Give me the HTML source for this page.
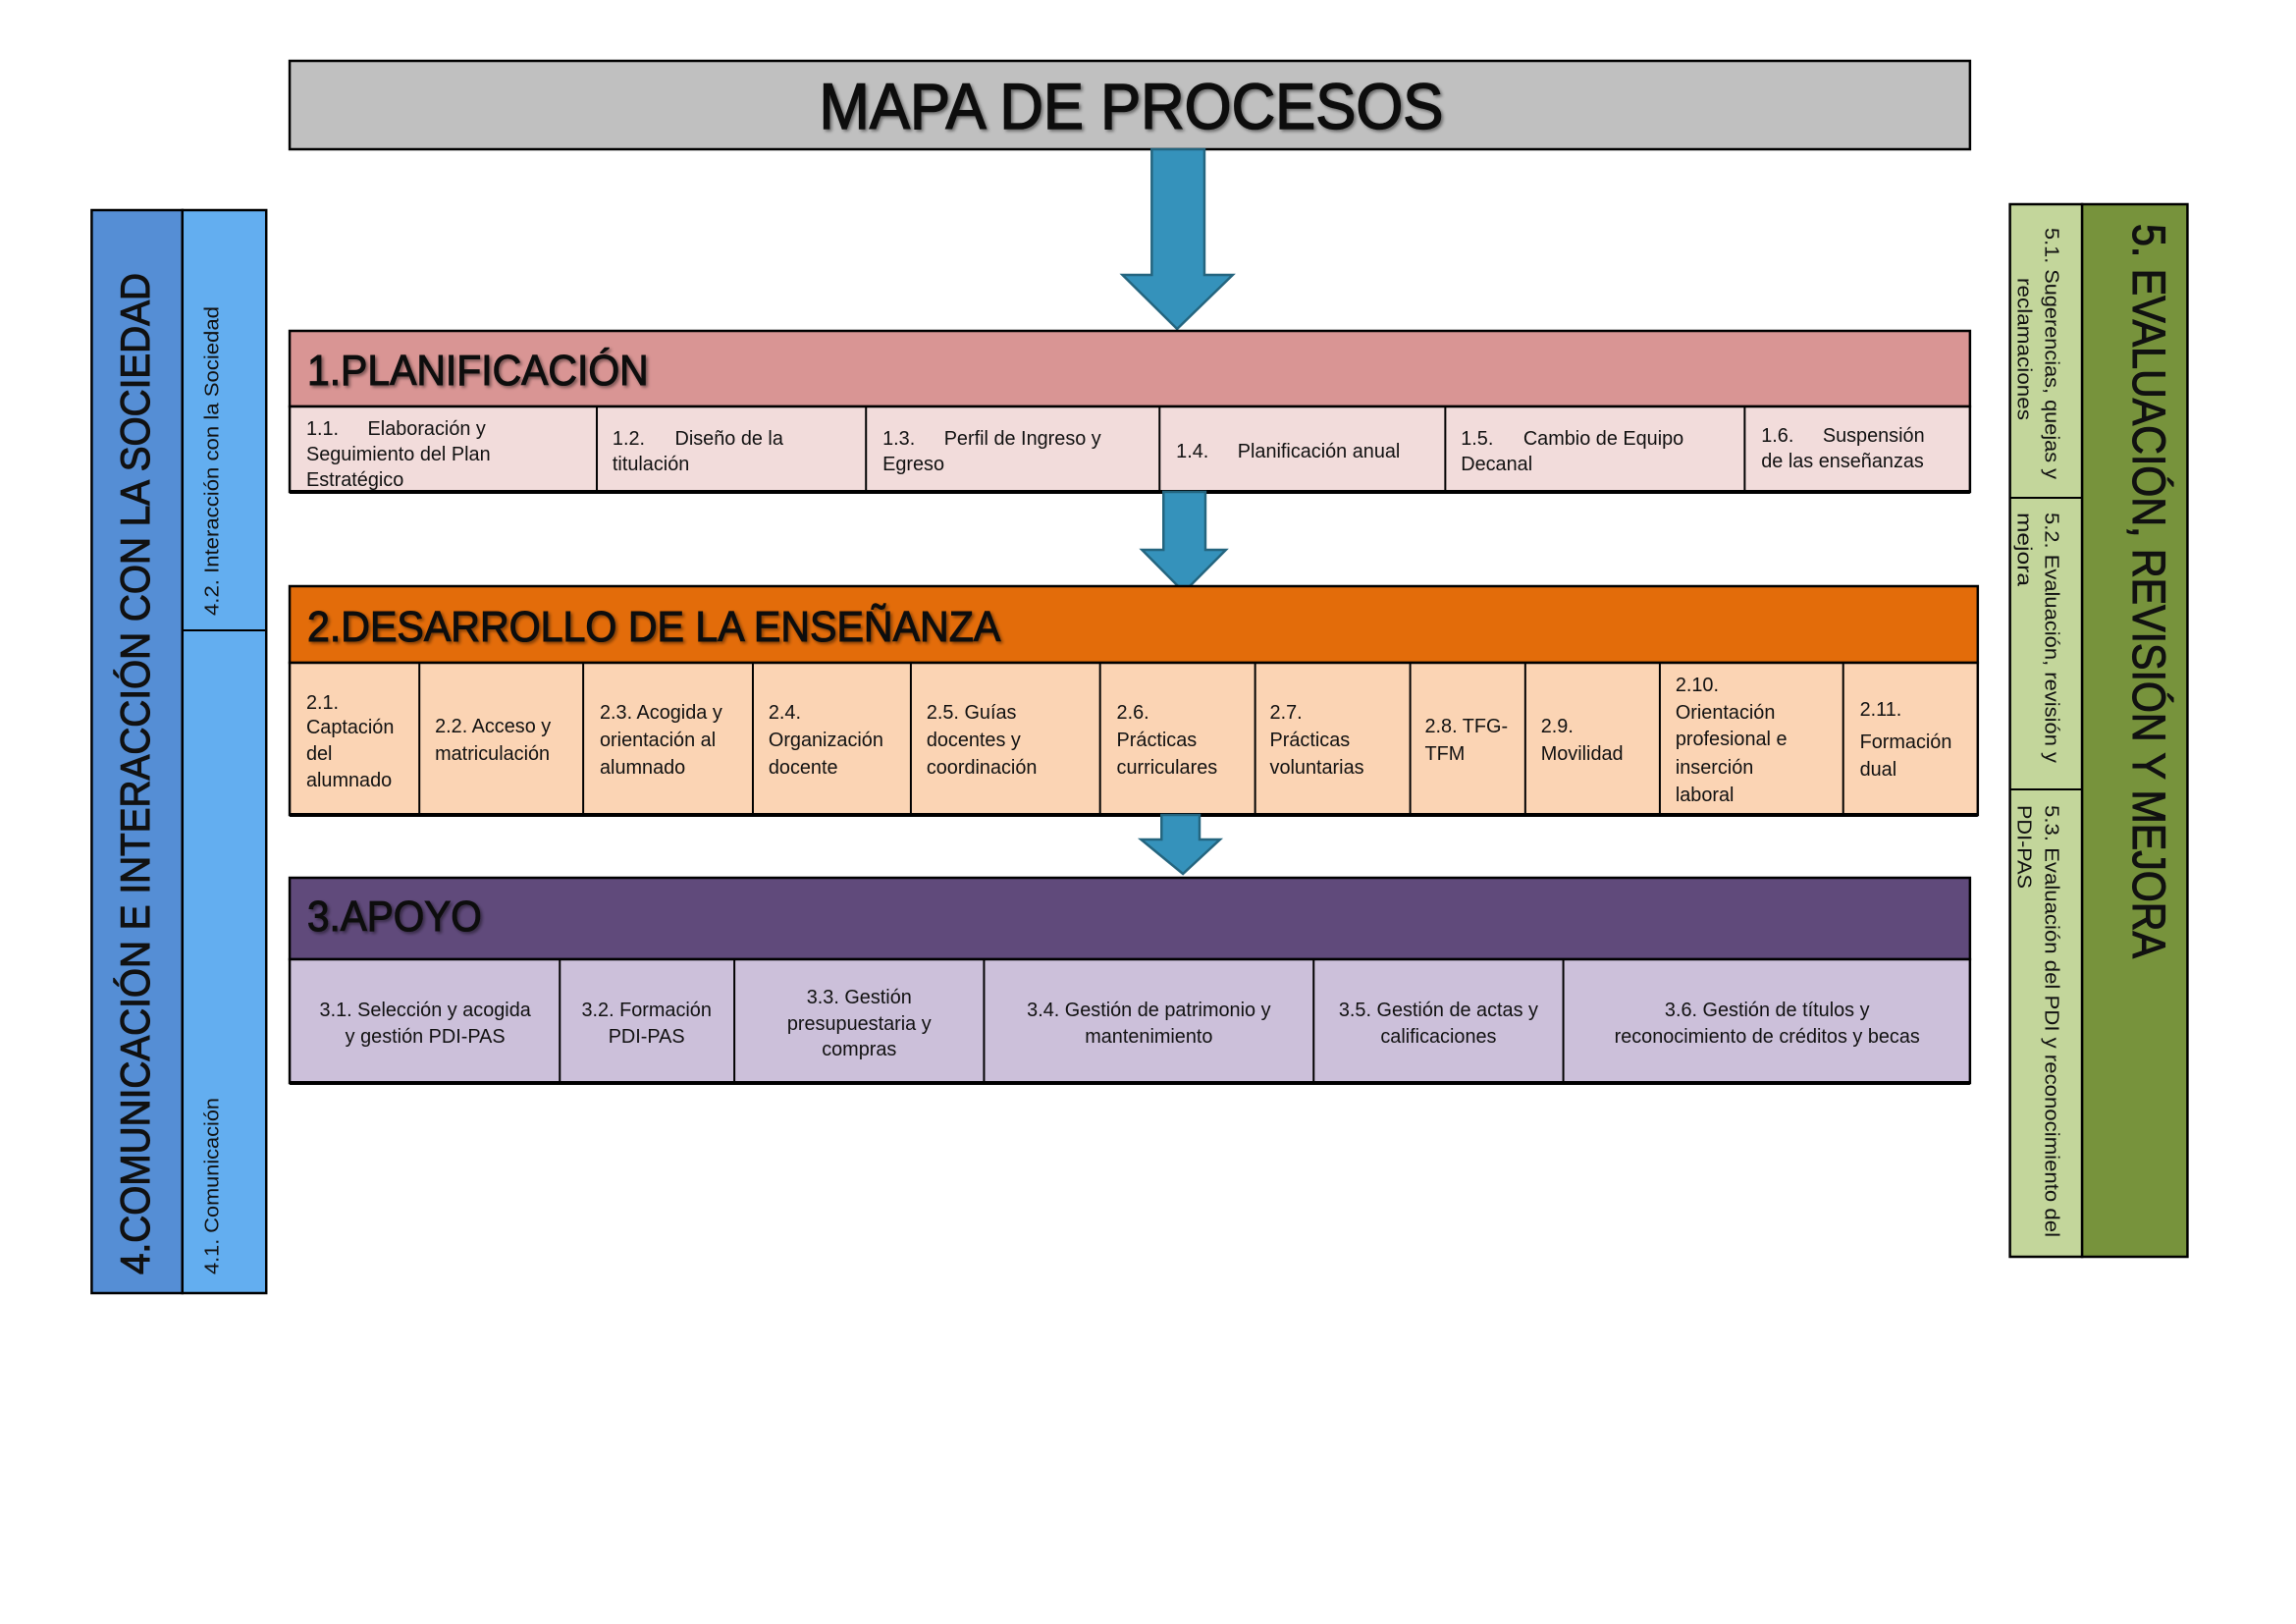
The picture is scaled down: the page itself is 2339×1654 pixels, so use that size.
<!DOCTYPE html>
<html><head><meta charset="utf-8"><style>
html,body{margin:0;padding:0;background:#fff;width:2339px;height:1654px;overflow:hidden}
svg{display:block}
text{font-family:"Liberation Sans",sans-serif;fill:#111}
.c{font-size:20px}
.h{font-size:44px;stroke:#111;stroke-width:1.1}
</style></head><body>
<svg width="2339" height="1654" viewBox="0 0 2339 1654" xmlns="http://www.w3.org/2000/svg">
<defs><filter id="sh" x="-5%" y="-20%" width="110%" height="140%"><feDropShadow dx="2" dy="2" stdDeviation="1.5" flood-color="#000" flood-opacity="0.45"/></filter></defs>
<g transform="scale(0.9935,1)">
<rect x="297" y="62" width="1723" height="90" fill="#c0c0c0" stroke="#000" stroke-width="2.5"/>
<text class="h" x="840" y="131" textLength="640" lengthAdjust="spacingAndGlyphs" filter="url(#sh)" style="font-size:66px;stroke-width:1.5">MAPA DE PROCESOS</text>

<polygon points="1181,152 1235,152 1235,280 1264,280 1207,335 1151,280 1181,280" fill="#3592bb" stroke="#24657f" stroke-width="2.5"/>

<rect x="297" y="337" width="1723" height="77" fill="#d99594" stroke="#000" stroke-width="2.5"/>
<text class="h" x="315" y="392" textLength="350" lengthAdjust="spacingAndGlyphs" filter="url(#sh)">1.PLANIFICACIÓN</text>
<rect x="297" y="414" width="1723" height="87" fill="#f2dcdb" stroke="#000" stroke-width="2.5"/>
<g stroke="#000" stroke-width="2"><line x1="612" y1="414" x2="612" y2="501"/><line x1="888" y1="414" x2="888" y2="501"/><line x1="1189" y1="414" x2="1189" y2="501"/><line x1="1482" y1="414" x2="1482" y2="501"/><line x1="1789" y1="414" x2="1789" y2="501"/></g>
<line x1="297" y1="501" x2="2020" y2="501" stroke="#000" stroke-width="4"/>
<g class="c">
<text x="314" y="443">1.1.</text><text x="377" y="443">Elaboración y</text>
<text x="314" y="469">Seguimiento del Plan</text><text x="314" y="495">Estratégico</text>
<text x="628" y="453">1.2.</text><text x="692" y="453">Diseño de la</text><text x="628" y="479">titulación</text>
<text x="905" y="453">1.3.</text><text x="968" y="453">Perfil de Ingreso y</text><text x="905" y="479">Egreso</text>
<text x="1206" y="466">1.4.</text><text x="1269" y="466">Planificación anual</text>
<text x="1498" y="453">1.5.</text><text x="1562" y="453">Cambio de Equipo</text><text x="1498" y="479">Decanal</text>
<text x="1806" y="450">1.6.</text><text x="1869" y="450">Suspensión</text><text x="1806" y="476">de las enseñanzas</text>
</g>

<polygon points="1193,501 1236,501 1236,560 1257,560 1214,603 1171,560 1193,560" fill="#3592bb" stroke="#24657f" stroke-width="2.5"/>

<rect x="297" y="597" width="1731" height="78" fill="#e36c0a" stroke="#000" stroke-width="2.5"/>
<text class="h" x="315" y="653" textLength="711" lengthAdjust="spacingAndGlyphs" filter="url(#sh)">2.DESARROLLO DE LA ENSEÑANZA</text>
<rect x="297" y="675" width="1731" height="155" fill="#fbd4b4" stroke="#000" stroke-width="2.5"/>
<g stroke="#000" stroke-width="2"><line x1="430" y1="675" x2="430" y2="830"/><line x1="598" y1="675" x2="598" y2="830"/><line x1="772" y1="675" x2="772" y2="830"/><line x1="934" y1="675" x2="934" y2="830"/><line x1="1128" y1="675" x2="1128" y2="830"/><line x1="1287" y1="675" x2="1287" y2="830"/><line x1="1446" y1="675" x2="1446" y2="830"/><line x1="1564" y1="675" x2="1564" y2="830"/><line x1="1702" y1="675" x2="1702" y2="830"/><line x1="1890" y1="675" x2="1890" y2="830"/></g>
<line x1="297" y1="830" x2="2028" y2="830" stroke="#000" stroke-width="4"/>
<g class="c">
<text x="314" y="722">2.1.</text><text x="314" y="747">Captación</text><text x="314" y="774">del</text><text x="314" y="801">alumnado</text>
<text x="446" y="746">2.2.  Acceso y</text><text x="446" y="774">matriculación</text>
<text x="615" y="732">2.3. Acogida y</text><text x="615" y="760">orientación al</text><text x="615" y="788">alumnado</text>
<text x="788" y="732">2.4.</text><text x="788" y="760">Organización</text><text x="788" y="788">docente</text>
<text x="950" y="732">2.5. Guías</text><text x="950" y="760">docentes y</text><text x="950" y="788">coordinación</text>
<text x="1145" y="732">2.6.</text><text x="1145" y="760">Prácticas</text><text x="1145" y="788">curriculares</text>
<text x="1302" y="732">2.7.</text><text x="1302" y="760">Prácticas</text><text x="1302" y="788">voluntarias</text>
<text x="1461" y="746">2.8. TFG-</text><text x="1461" y="774">TFM</text>
<text x="1580" y="746">2.9.</text><text x="1580" y="774">Movilidad</text>
<text x="1718" y="704">2.10.</text><text x="1718" y="732">Orientación</text><text x="1718" y="759">profesional e</text><text x="1718" y="788">inserción</text><text x="1718" y="816">laboral</text>
<text x="1907" y="729">2.11.</text><text x="1907" y="762">Formación</text><text x="1907" y="790">dual</text>
</g>

<polygon points="1191,830 1230,830 1230,855 1251,855 1213,890 1170,855 1191,855" fill="#3592bb" stroke="#24657f" stroke-width="2.5"/>

<rect x="297" y="894" width="1723" height="83" fill="#604a7b" stroke="#000" stroke-width="2.5"/>
<text class="h" x="315" y="948" textLength="179" lengthAdjust="spacingAndGlyphs" filter="url(#sh)">3.APOYO</text>
<rect x="297" y="977" width="1723" height="126" fill="#ccc0da" stroke="#000" stroke-width="2.5"/>
<g stroke="#000" stroke-width="2"><line x1="574" y1="977" x2="574" y2="1103"/><line x1="753" y1="977" x2="753" y2="1103"/><line x1="1009" y1="977" x2="1009" y2="1103"/><line x1="1347" y1="977" x2="1347" y2="1103"/><line x1="1603" y1="977" x2="1603" y2="1103"/></g>
<line x1="297" y1="1103" x2="2020" y2="1103" stroke="#000" stroke-width="4"/>
<g class="c" text-anchor="middle">
<text x="436" y="1035">3.1. Selección y acogida</text><text x="436" y="1062">y gestión PDI-PAS</text>
<text x="663" y="1035">3.2. Formación</text><text x="663" y="1062">PDI-PAS</text>
<text x="881" y="1022">3.3. Gestión</text><text x="881" y="1049">presupuestaria y</text><text x="881" y="1075">compras</text>
<text x="1178" y="1035">3.4. Gestión de patrimonio y</text><text x="1178" y="1062">mantenimiento</text>
<text x="1475" y="1035">3.5. Gestión de actas y</text><text x="1475" y="1062">calificaciones</text>
<text x="1812" y="1035">3.6. Gestión de títulos y</text><text x="1812" y="1062">reconocimiento de créditos y becas</text>
</g>

<rect x="94" y="214" width="93" height="1103" fill="#558ed5" stroke="#000" stroke-width="2.5"/>
<rect x="187" y="214" width="86" height="1103" fill="#63aef0" stroke="#000" stroke-width="2.5"/>
<line x1="187" y1="642" x2="273" y2="642" stroke="#000" stroke-width="2"/>
<text class="h" transform="translate(153,1298) rotate(-90)" style="font-size:42px" textLength="1020" lengthAdjust="spacingAndGlyphs">4.COMUNICACIÓN E INTERACCIÓN CON LA SOCIEDAD</text>
<text transform="translate(224,627) rotate(-90)" font-size="20" textLength="315" lengthAdjust="spacingAndGlyphs">4.2. Interacción con la Sociedad</text>
<text transform="translate(224,1298) rotate(-90)" font-size="20" textLength="180" lengthAdjust="spacingAndGlyphs">4.1. Comunicación</text>

<rect x="2061" y="208" width="74" height="1072" fill="#c3d69b" stroke="#000" stroke-width="2.5"/>
<rect x="2135" y="208" width="108" height="1072" fill="#77933c" stroke="#000" stroke-width="2.5"/>
<line x1="2061" y1="507" x2="2135" y2="507" stroke="#000" stroke-width="2"/>
<line x1="2061" y1="804" x2="2135" y2="804" stroke="#000" stroke-width="2"/>
<text class="h" transform="translate(2187,228) rotate(90)" style="font-size:48px" textLength="748" lengthAdjust="spacingAndGlyphs">5. EVALUACIÓN, REVISIÓN Y MEJORA</text>
<g font-size="20">
<text transform="translate(2097,232) rotate(90)" textLength="256" lengthAdjust="spacingAndGlyphs">5.1. Sugerencias, quejas y</text>
<text transform="translate(2069,283) rotate(90)" textLength="145" lengthAdjust="spacingAndGlyphs">reclamaciones</text>
<text transform="translate(2097,522) rotate(90)" textLength="255" lengthAdjust="spacingAndGlyphs">5.2. Evaluación, revisión y</text>
<text transform="translate(2069,522) rotate(90)" textLength="75" lengthAdjust="spacingAndGlyphs">mejora</text>
<text transform="translate(2097,820) rotate(90)" textLength="440" lengthAdjust="spacingAndGlyphs">5.3. Evaluación del PDI y reconocimiento del</text>
<text transform="translate(2069,820) rotate(90)" textLength="85" lengthAdjust="spacingAndGlyphs">PDI-PAS</text>
</g>
</g>
</svg>
</body></html>
